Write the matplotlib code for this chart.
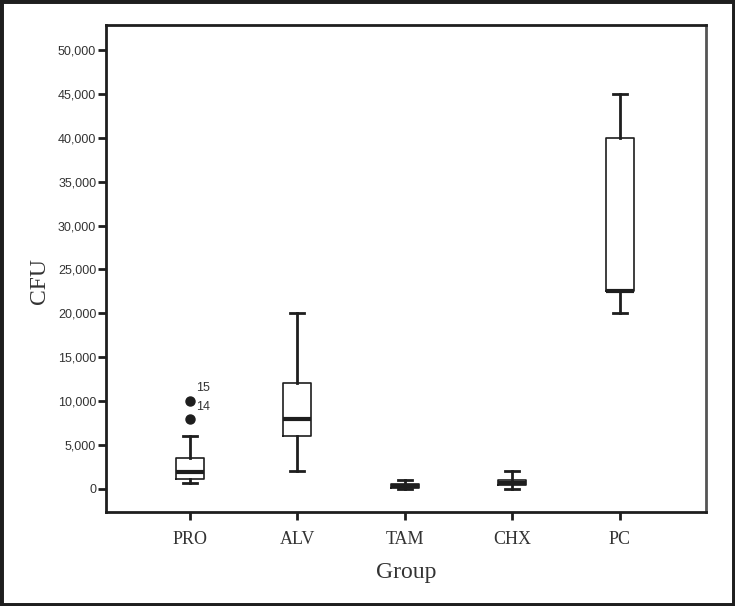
import matplotlib
matplotlib.use('Agg')
import matplotlib.pyplot as plt
from matplotlib.patches import Rectangle
from matplotlib.ticker import FuncFormatter

# Boxplot summary values (CFU)
groups = ['PRO', 'ALV', 'TAM', 'CHX', 'PC']
whisk_lo = [700, 2000, 0, 0, 20000]
q1 = [1100, 6000, 100, 400, 22500]
median = [1900, 8000, 300, 700, 22500]
q3 = [3500, 12000, 500, 1000, 40000]
whisk_hi = [6000, 20000, 1000, 2000, 45000]
outliers = [[10000, 8000], [], [], [], []]

# case labels next to the PRO outliers
case_labels = ['15', '14']
case_label_y = [11500, 9350]

ink = '#1e1e1e'

fig = plt.figure(figsize=(7.35, 6.06), dpi=100)
ax = fig.add_axes([0.1442, 0.1551, 0.8163, 0.8036])

stats = []
for i, g in enumerate(groups):
    stats.append(dict(label=g, whislo=whisk_lo[i], q1=q1[i], med=median[i],
                      q3=q3[i], whishi=whisk_hi[i], fliers=outliers[i]))

pos = list(range(1, len(groups) + 1))
ax.bxp(stats, positions=pos, widths=0.26, patch_artist=False,
       boxprops=dict(color=ink, linewidth=1.2),
       whiskerprops=dict(color=ink, linewidth=2.0),
       capprops=dict(color=ink, linewidth=2.0),
       medianprops=dict(color=ink, linewidth=3.0),
       flierprops=dict(marker='o', markerfacecolor=ink, markeredgecolor=ink,
                       markersize=6.5))

for lab, y in zip(case_labels, case_label_y):
    ax.text(1.06, y, lab, fontsize=9, color='#333333',
            family='Liberation Sans', va='center', ha='left')

ax.set_xlim(0.22, 5.80)
ax.set_ylim(-2650, 52850)
ax.set_yticks(range(0, 50001, 5000))
ax.yaxis.set_major_formatter(FuncFormatter(lambda v, p: f'{int(v):,}'))
ax.set_xticks(pos)
ax.set_xticklabels(groups, family='Liberation Serif', fontsize=13, color='#333333')
for t in ax.get_yticklabels():
    t.set_family('Liberation Sans')
    t.set_fontsize(9)
    t.set_color('#333333')

ax.tick_params(axis='both', direction='out', length=6, width=2, color=ink)
ax.tick_params(axis='y', pad=1)
ax.tick_params(axis='x', pad=8)

for s in ax.spines.values():
    s.set_linewidth(2)
    s.set_color(ink)
ax.spines['right'].set_color('#555555')

ax.set_xlabel('Group', family='Liberation Serif', fontsize=17, color='#333333',
              labelpad=10)
ax.set_ylabel('CFU', family='Liberation Serif', fontsize=17, color='#333333')
ax.yaxis.set_label_coords(-0.093, 0.474)

fig.patches.append(Rectangle((0, 0), 1, 1, transform=fig.transFigure,
                             fill=False, linewidth=5, edgecolor=ink))

fig.savefig('out.png', dpi=100)
